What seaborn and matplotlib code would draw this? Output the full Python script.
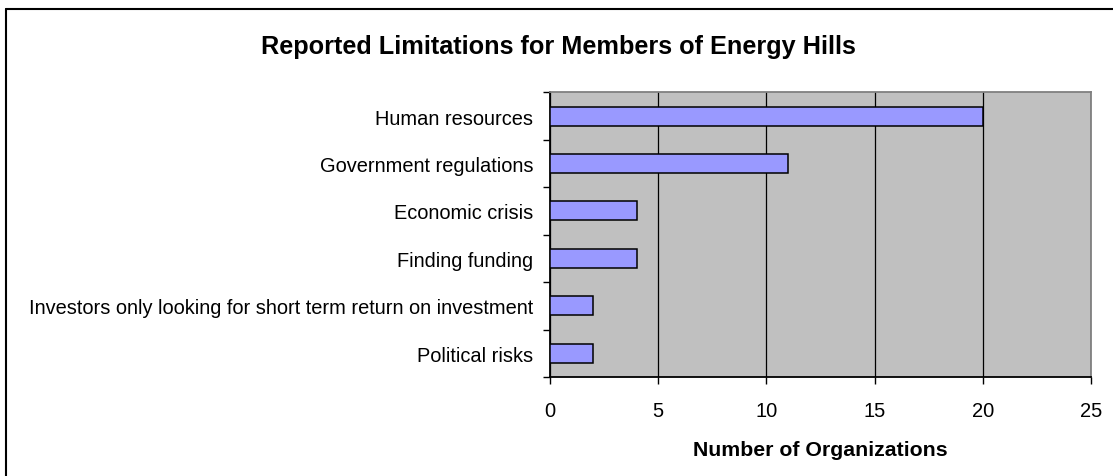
import matplotlib
matplotlib.use("Agg")
import matplotlib.pyplot as plt
import seaborn as sns
import pandas as pd
from matplotlib.lines import Line2D

categories = [
    "Human resources",
    "Government regulations",
    "Economic crisis",
    "Finding funding",
    "Investors only looking for short term return on investment",
    "Political risks",
]
counts = [20, 11, 4, 4, 2, 2]
x_ticks = [0, 5, 10, 15, 20, 25]
title = "Reported Limitations for Members of Energy Hills"
xlabel = "Number of Organizations"

sns.set_theme(style="white")
plt.rcParams["font.family"] = ["Liberation Sans", "DejaVu Sans"]
plt.rcParams["text.color"] = "black"
plt.rcParams["axes.labelcolor"] = "black"
plt.rcParams["xtick.color"] = "black"
plt.rcParams["ytick.color"] = "black"

df = pd.DataFrame({"category": categories, "count": counts})

fig = plt.figure(figsize=(11.13, 4.77), dpi=100)
ax = fig.add_axes([550 / 1113, 99 / 477, 541 / 1113, 284.7 / 477])
ax.set_facecolor("#C0C0C0")

sns.barplot(data=df, x="count", y="category", orient="h", width=0.4,
            color="#9999FF", edgecolor="black", linewidth=1.1,
            saturation=1, ax=ax, zorder=3)

ax.set_xlim(0, 25)
ax.set_ylim(len(categories) - 0.5, -0.5)
ax.set_xticks(x_ticks)
ax.set_xticklabels([str(t) for t in x_ticks], fontsize=14.5)
ax.xaxis.grid(True, color="black", linewidth=0.9, zorder=1)
ax.set_axisbelow(True)
ax.tick_params(axis="x", direction="out", length=5, width=1, color="black",
               pad=12.5, bottom=True)
ax.tick_params(axis="y", which="major", length=0, pad=12, labelsize=14.45)
ax.set_yticks([i - 0.5 for i in range(len(categories) + 1)], minor=True)
ax.tick_params(axis="y", which="minor", direction="out", length=5, width=1,
               color="black", left=True)
ax.set_ylabel("")
ax.set_xlabel(xlabel, fontsize=15.3, fontweight="bold", labelpad=14)

for s in ["left", "bottom"]:
    ax.spines[s].set_color("black")
    ax.spines[s].set_linewidth(1.3)
for s in ["top", "right"]:
    ax.spines[s].set_color("#808080")
    ax.spines[s].set_linewidth(1.3)

fig.text(0.5013, 1 - 47 / 477, title, ha="center", va="center",
         fontsize=18.2, fontweight="bold")

# outer chart border (top and left, as cropped in reference)
fig.add_artist(Line2D([6 / 1113, 1.0], [1 - 10 / 477, 1 - 10 / 477],
                      transform=fig.transFigure, color="black", linewidth=1.5))
fig.add_artist(Line2D([6 / 1113, 6 / 1113], [0, 1 - 10 / 477],
                      transform=fig.transFigure, color="black", linewidth=1.5))

fig.savefig("out.png", dpi=100)
